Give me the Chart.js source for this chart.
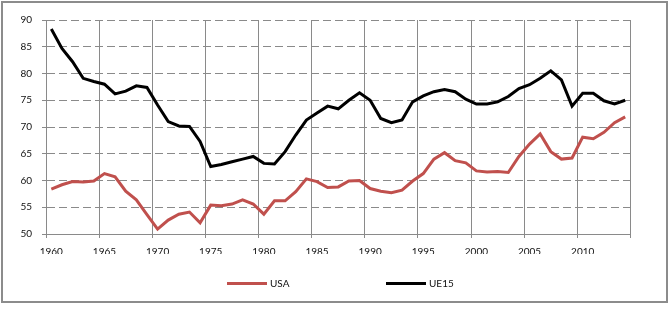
<!DOCTYPE html>
<html>
<head>
<meta charset="utf-8">
<script src="https://cdn.jsdelivr.net/npm/chart.js@4/dist/chart.umd.min.js"></script>
<style>
  body { margin: 0; background: #fff; font-family: Lato, sans-serif; }
  #frame { position: absolute; left: 1px; top: 1px; width: 663px; height: 298px; border: 2px solid #8c8c8c; }
  #wrap { position: relative; width: 663px; height: 298px; }
  .leg { position: absolute; top: 276px; height: 14px; display: flex; align-items: center; font-size: 10px; color: #111; }
  .leg i { display: inline-block; width: 40px; height: 3px; margin-right: 3px; }
</style>
</head>
<body>
<div id="frame"><div id="wrap"><canvas id="c"></canvas></div></div>
<div class="leg" style="left:227px"><i style="background:#c0504d"></i>USA</div>
<div class="leg" style="left:386px"><i style="background:#000"></i>UE15</div>
<script>
// ── DATA ──
const years = [];
for (let y = 1960; y <= 2014; y++) years.push(String(y));

const usa = [
  58.4, 59.2, 59.8, 59.7, 59.9, 61.3, 60.7, 58.0, 56.4, 53.6,
  50.9, 52.6, 53.7, 54.1, 52.1, 55.4, 55.3, 55.6, 56.4, 55.6,
  53.7, 56.2, 56.2, 57.9, 60.3, 59.8, 58.7, 58.8, 59.9, 60.0,
  58.5, 58.0, 57.7, 58.2, 59.9, 61.3, 64.0, 65.2, 63.7, 63.3,
  61.8, 61.6, 61.7, 61.5, 64.5, 66.8, 68.7, 65.4, 64.0, 64.2,
  68.1, 67.8, 69.0, 70.8, 71.9
];
const ue15 = [
  88.3, 84.7, 82.2, 79.1, 78.5, 78.0, 76.2, 76.7, 77.7, 77.4,
  74.1, 71.0, 70.2, 70.1, 67.3, 62.6, 63.0, 63.5, 64.0, 64.5,
  63.2, 63.1, 65.4, 68.5, 71.3, 72.6, 73.9, 73.4, 75.0, 76.4,
  75.0, 71.6, 70.8, 71.3, 74.7, 75.8, 76.6, 77.0, 76.6, 75.2,
  74.3, 74.3, 74.7, 75.7, 77.2, 77.9, 79.1, 80.5, 78.8, 73.9,
  76.3, 76.3, 74.9, 74.3, 75.0
];
const seriesNames = ['USA', 'UE15'];
const seriesColors = ['#c0504d', '#000000'];

// ── CHART ──
const GRID = '#8a8a8a';
const FONT = { family: 'Lato, sans-serif', size: 10 };
// vertical lines only every 5 years (and at the right edge)
const everyFifth = c => (c.index === undefined || c.index % 5 === 0 ? 1 : 0);

new Chart(document.getElementById('c').getContext('2d'), {
  type: 'line',
  data: {
    labels: years,
    datasets: [usa, ue15].map((d, i) => ({
      label: seriesNames[i],
      data: d,
      borderColor: seriesColors[i],
      backgroundColor: seriesColors[i],
      borderWidth: 3,
      pointRadius: 0,
      tension: 0,
      fill: false
    }))
  },
  options: {
    responsive: true,
    maintainAspectRatio: false,
    animation: false,
    layout: { padding: { top: 17, right: 35.5, bottom: 47, left: 0 } },
    plugins: { legend: { display: false }, tooltip: { enabled: false } },
    scales: {
      x: {
        type: 'category',
        offset: true,
        grid: {
          offset: true,
          color: GRID,
          lineWidth: everyFifth,
          tickWidth: everyFifth,
          tickLength: 4
        },
        border: { display: true, color: GRID, width: 1 },
        ticks: {
          autoSkip: false,
          maxRotation: 0,
          padding: 8,
          color: '#111',
          font: FONT,
          callback: (v, i) => (i % 5 === 0 ? years[i] : '')
        },
        afterFit: s => { s.height = 20; }
      },
      y: {
        min: 50,
        max: 90,
        ticks: { stepSize: 5, padding: 10, color: '#111', font: FONT },
        grid: {
          color: GRID,
          lineWidth: 1,
          tickLength: 4,
          tickBorderDash: []
        },
        border: { display: true, color: GRID, width: 1, dash: [8, 4] },
        afterFit: s => { s.width = 43; }
      }
    }
  }
});
</script>
</body>
</html>
